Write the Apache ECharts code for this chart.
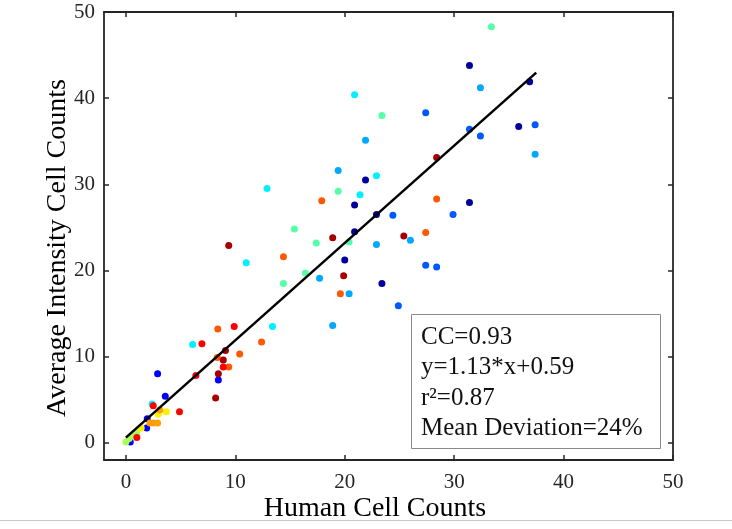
<!DOCTYPE html>
<html>
<head>
<meta charset="utf-8">
<script src="https://cdn.jsdelivr.net/npm/echarts@6/dist/echarts.min.js"></script>
<style>
html,body{margin:0;padding:0;background:#fff;}
#main{width:732px;height:529px;}
</style>
</head>
<body>
<div id="main"></div>
<script>
// ---- data ----
var tickValues = [0, 10, 20, 30, 40, 50];
var xTitle = 'Human Cell Counts';
var yTitle = 'Average Intensity Cell Counts';
var statLines = ['CC=0.93', 'y=1.13*x+0.59', 'r\u00B2=0.87', 'Mean Deviation=24%'];
var fitSlope = 1.13;
var fitIntercept = 0.59;
var fitRange = [0, 37.5];

var navyPts = [[31.4,43.8],[36.9,41.9],[35.9,36.7],[21.9,30.5],[20.9,27.6],[22.9,26.5],[31.4,27.9],[20.9,24.5],[20.0,21.2],[23.4,18.5]];
var bluePts = [[2.9,8.0],[3.6,5.4],[8.45,7.3],[1.95,2.8],[1.9,1.7],[0.4,0.1]];
var midBluePts = [[27.4,38.3],[31.4,36.4],[32.4,35.6],[37.4,36.9],[24.4,26.4],[29.9,26.5],[27.4,20.6],[28.4,20.4],[24.9,15.9]];
var lightBluePts = [[32.4,41.2],[21.9,35.1],[19.4,31.6],[37.4,33.5],[22.9,23.0],[26.0,23.5],[17.7,19.1],[20.4,17.3],[18.9,13.6]];
var cyanPts = [[20.9,40.4],[22.9,31.0],[12.9,29.5],[21.4,28.8],[11.0,20.9],[13.4,13.5],[6.1,11.4],[2.4,4.5]];
var aquaPts = [[33.4,48.3],[23.4,38.0],[19.4,29.2],[15.4,24.8],[17.4,23.2],[20.4,23.3],[16.4,19.7],[14.4,18.5]];
var lightGreenPts = [[1.0,1.2],[0.7,0.9],[0.0,0.1],[0.3,0.5]];
var yellowPts = [[2.95,3.3],[3.7,3.6],[1.4,1.7]];
var orangePts = [[3.1,3.8],[2.2,2.3],[2.5,2.3],[2.9,2.3]];
var orangeRedPts = [[17.9,28.1],[28.4,28.3],[27.4,24.4],[14.4,21.6],[19.6,17.3],[12.4,11.7],[8.4,13.2],[10.4,10.3],[9.4,8.8],[8.35,9.9]];
var redPts = [[9.9,13.5],[6.95,11.5],[6.4,7.8],[4.9,3.6],[2.5,4.3],[8.9,8.8],[1.0,0.6]];
var darkRedPts = [[28.4,33.1],[18.9,23.8],[25.4,24.0],[19.9,19.4],[9.4,22.9],[9.1,10.7],[8.9,9.6],[8.45,8.0],[8.2,5.2]];

// ---- chart ----
var groups = [
  [navyPts, '#00009C'],
  [bluePts, '#0000FF'],
  [midBluePts, '#0058FF'],
  [lightBluePts, '#00A8FF'],
  [cyanPts, '#00F0FF'],
  [aquaPts, '#55FFA8'],
  [lightGreenPts, '#A8FF58'],
  [yellowPts, '#FFF000'],
  [orangePts, '#FFA000'],
  [orangeRedPts, '#FF5800'],
  [redPts, '#FF0000'],
  [darkRedPts, '#A80000']
];
var font = '"Liberation Serif", "Times New Roman", serif';
var axisCol = '#262626';

var series = groups.map(function (g) {
  return {
    type: 'scatter',
    data: g[0],
    symbol: 'circle',
    symbolSize: 7,
    itemStyle: { color: g[1], opacity: 1 },
    silent: true,
    z: 2
  };
});
series.push({
  type: 'line',
  data: fitRange.map(function (x) { return [x, fitSlope * x + fitIntercept]; }),
  symbol: 'none',
  lineStyle: { color: '#000', width: 2.5 },
  silent: true,
  z: 5
});

function axisBase(pos, showLabel, isX) {
  return {
    type: 'value',
    position: pos,
    min: -2,
    max: 50,
    axisLine: { show: true, onZero: false, lineStyle: { color: axisCol, width: 1.8 } },
    axisTick: { show: true, inside: true, length: 5, customValues: tickValues, lineStyle: { color: axisCol, width: 1.5 } },
    splitLine: { show: false },
    axisLabel: {
      show: showLabel,
      customValues: tickValues,
      fontFamily: font,
      fontSize: 21,
      color: axisCol,
      margin: isX ? 12 : 9
    }
  };
}

var chart = echarts.init(document.getElementById('main'), null, { renderer: 'canvas' });
chart.setOption({
  animation: false,
  backgroundColor: '#fff',
  grid: { left: 104, right: 59, top: 12, bottom: 69, containLabel: false },
  xAxis: [axisBase('bottom', true, true), axisBase('top', false, true)],
  yAxis: [axisBase('left', true, false), axisBase('right', false, false)],
  series: series,
  graphic: [
    {
      type: 'text',
      style: { text: xTitle, font: '28px ' + font, fill: '#000', align: 'center', verticalAlign: 'middle' },
      x: 375, y: 509
    },
    {
      type: 'text',
      style: { text: yTitle, font: '28px ' + font, fill: '#000', align: 'center', verticalAlign: 'middle' },
      x: 58, y: 248,
      rotation: Math.PI / 2
    },
    {
      type: 'rect',
      shape: { x: 411.5, y: 314.5, width: 249, height: 134 },
      style: { fill: '#fff', stroke: '#8a8a8a', lineWidth: 1 },
      z: 10
    },
    {
      type: 'text',
      style: {
        text: statLines.join('\n'),
        font: '25px ' + font,
        lineHeight: 30.5,
        fill: '#111',
        align: 'left',
        verticalAlign: 'top'
      },
      x: 421, y: 322,
      z: 11
    },
    {
      type: 'line',
      shape: { x1: 0, y1: 520.5, x2: 732, y2: 520.5 },
      style: { stroke: '#c8c8c8', lineWidth: 1 }
    }
  ]
});
</script>
</body>
</html>
